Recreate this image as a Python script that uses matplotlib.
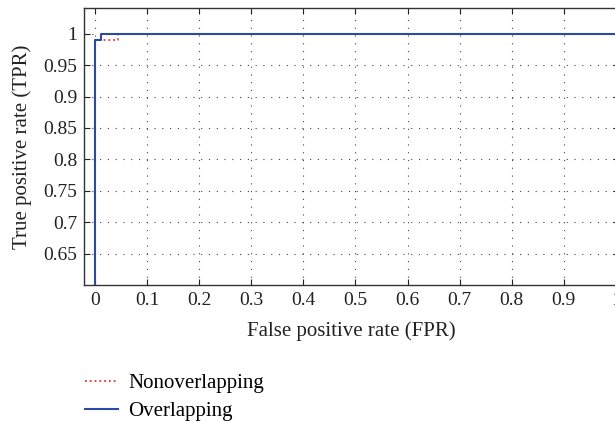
import matplotlib
matplotlib.use('Agg')
import matplotlib.pyplot as plt
from matplotlib.lines import Line2D

plt.rcParams['font.family'] = ['Liberation Serif', 'DejaVu Serif']

# ROC curves (step points)
fpr_non = [0.0, 0.0, 0.045, 0.045, 1.0]
tpr_non = [0.6, 0.99, 0.99, 1.0, 1.0]
fpr_ovl = [0.0, 0.0, 0.011, 0.011, 1.0]
tpr_ovl = [0.6, 0.99, 0.99, 1.0, 1.0]

xticks = [0, 0.1, 0.2, 0.3, 0.4, 0.5, 0.6, 0.7, 0.8, 0.9, 1]
xticklabels = ['0', '0.1', '0.2', '0.3', '0.4', '0.5', '0.6', '0.7', '0.8', '0.9', '1']
yticks = [0.65, 0.7, 0.75, 0.8, 0.85, 0.9, 0.95, 1]
yticklabels = ['0.65', '0.7', '0.75', '0.8', '0.85', '0.9', '0.95', '1']

red = '#e8333a'
blue = '#2b4aa0'

fig = plt.figure(figsize=(6.15, 4.21), dpi=100)
ax = fig.add_axes([0.1366, 0.323, 0.87, 0.658])

ax.plot(fpr_non, tpr_non, color=red, linestyle=':', linewidth=1.3)
ax.plot(fpr_ovl, tpr_ovl, color=blue, linewidth=1.5)

ax.set_xlim(-0.021, 1.006)
ax.set_ylim(0.6, 1.041)
ax.set_xticks(xticks)
ax.set_xticklabels(xticklabels)
ax.set_yticks(yticks)
ax.set_yticklabels(yticklabels)
ax.tick_params(direction='in', top=True, right=True, labelsize=14, colors='#222222',
               length=4, pad=5)
ax.grid(True, color='#444444', linestyle=(0, (1, 6)), linewidth=0.8)
for s in ax.spines.values():
    s.set_color('#333333')
    s.set_linewidth(1.0)

ax.set_xlabel('False positive rate (FPR)', fontsize=15, color='#222222', labelpad=9)
ax.set_ylabel('True positive rate (TPR)', fontsize=15, color='#222222', labelpad=8)

handles = [Line2D([], [], color=red, linestyle=':', linewidth=1.3),
           Line2D([], [], color=blue, linewidth=1.5)]
fig.legend(handles, ['Nonoverlapping', 'Overlapping'], loc='upper left',
           bbox_to_anchor=(0.138, 0.113), frameon=False, fontsize=15,
           handlelength=1.6, labelspacing=0.4, handletextpad=0.5, borderaxespad=0,
           borderpad=0)

fig.savefig('out.png', dpi=100)
